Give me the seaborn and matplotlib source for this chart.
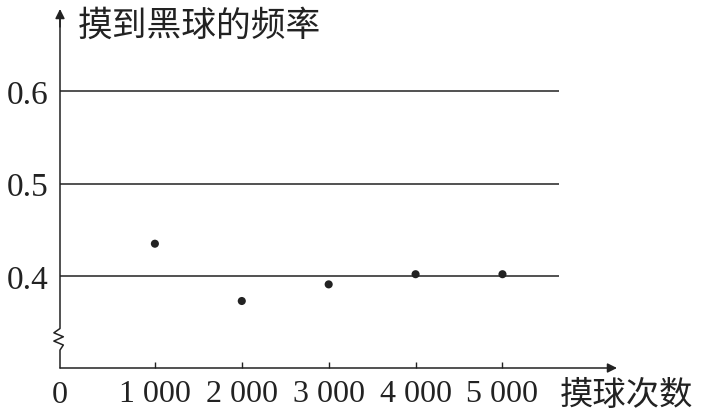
import matplotlib
matplotlib.use("Agg")
import matplotlib.pyplot as plt
import seaborn as sns
import pandas as pd

# data
trials = [1000, 2000, 3000, 4000, 5000]
freq = [0.435, 0.373, 0.391, 0.402, 0.402]
tick_labels = ["1 000", "2 000", "3 000", "4 000", "5 000"]
levels = [0.4, 0.5, 0.6]
level_labels = ["0.4", "0.5", "0.6"]
y_title = "摸到黑球的频率"
x_title = "摸球次数"


def main():
    sns.set_theme(style="white")
    plt.rcParams["font.family"] = ["Liberation Serif", "Noto Sans CJK SC"]
    cjk = ["Noto Sans CJK SC", "DejaVu Sans"]
    ink = "#222222"

    df = pd.DataFrame({"trials": trials, "freq": freq})

    fig = plt.figure(figsize=(7.06, 4.14), dpi=100)
    ax = fig.add_axes([60 / 706, 45 / 414, 557 / 706, 359 / 414])
    ax.set_xlim(-92, 6318)
    ax.set_ylim(0.3005, 0.689)

    # reference lines
    ax.hlines(levels, -92, 5650, color=ink, linewidth=1.1)

    sns.scatterplot(data=df, x="trials", y="freq", ax=ax, color=ink,
                    s=34, edgecolor="none", zorder=5)

    for s in ax.spines.values():
        s.set_visible(False)

    # x axis with arrow
    ax.annotate("", xy=(1, 0), xytext=(0, 0), xycoords="axes fraction",
                arrowprops=dict(arrowstyle="-|>", color=ink, lw=1.1,
                                mutation_scale=14, shrinkA=0, shrinkB=0))
    # y axis with zigzag break and arrow
    zx = [0, 0, 0.006, -0.011, 0.006, -0.011, 0, 0]
    zy = [0, 0.05, 0.064, 0.075, 0.087, 0.098, 0.11, 0.98]
    ax.plot(zx, zy, transform=ax.transAxes, color=ink, lw=1.1, clip_on=False)
    ax.annotate("", xy=(0, 1), xytext=(0, 0.95), xycoords="axes fraction",
                arrowprops=dict(arrowstyle="-|>", color=ink, lw=1.1,
                                mutation_scale=14, shrinkA=0, shrinkB=0))

    ax.set_xticks(trials)
    ax.set_xticklabels(tick_labels)
    ax.set_yticks(levels)
    ax.set_yticklabels(level_labels)
    ax.tick_params(axis="x", direction="in", length=4.5, width=1, color=ink,
                   pad=8, labelsize=23, labelcolor=ink, bottom=True)
    ax.tick_params(axis="y", length=0, pad=8, labelsize=24, labelcolor=ink)
    ax.set_xlabel("")
    ax.set_ylabel("")

    ax.text(0, -0.075, "0", transform=ax.transAxes, ha="center", va="center",
            fontsize=23, color=ink)
    ax.text(0.032, 0.955, y_title, transform=ax.transAxes, ha="left",
            va="center", fontsize=25, color=ink, family=cjk)
    ax.text(0.897, -0.075, x_title, transform=ax.transAxes, ha="left",
            va="center", fontsize=24, color=ink, family=cjk)

    fig.savefig("out.png", dpi=100)


if __name__ == "__main__":
    main()
